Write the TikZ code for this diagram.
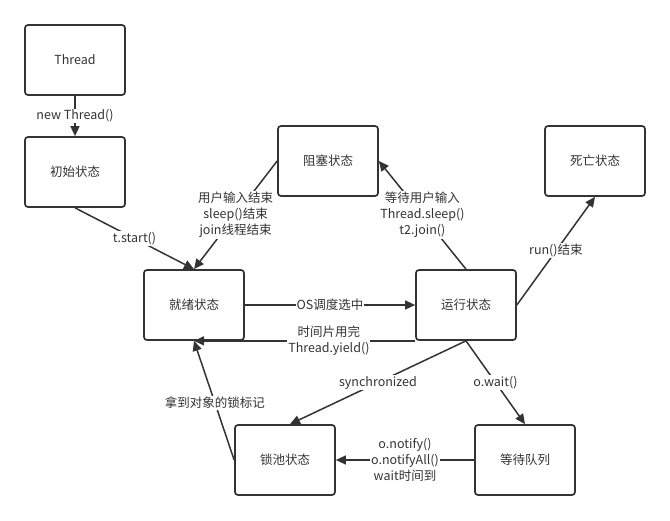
\documentclass[tikz,border=0pt]{standalone}
\usepackage{fontspec}
\setmainfont{Noto Sans CJK SC}
\usetikzlibrary{arrows.meta,calc}
\definecolor{ink}{HTML}{333333}
\begin{document}
\begin{tikzpicture}[x=1pt,y=-1pt,
  state/.style={draw=ink,line width=1.7pt,rounded corners=3pt,minimum width=100pt,minimum height=70pt,text=ink,font=\fontsize{12.5}{16}\selectfont,inner sep=0pt},
  conn/.style={draw=ink,line width=1.5pt,-{Triangle[length=10pt,width=9pt]}},
  lbl/.style={fill=white,text=ink,align=center,inner sep=1pt,font=\fontsize{12.5}{16}\selectfont}]
\useasboundingbox (0,0) rectangle (670,520);
\node[state] (thread) at (75,60) {Thread};
\node[state] (init) at (75,172) {初始状态};
\node[state] (block) at (328,161) {阻塞状态};
\node[state] (dead) at (595,161) {死亡状态};
\node[state] (ready) at (194,305) {就绪状态};
\node[state] (run) at (466,305) {运行状态};
\node[state] (lock) at (285,460) {锁池状态};
\node[state] (wait) at (525,460) {等待队列};

\draw[conn] (thread.south) -- node[lbl,pos=0.5]{new Thread()} (init.north);
\draw[conn] (init.south) -- node[lbl,pos=0.5]{t.start()} (ready.north);
\draw[conn] (block.west) -- node[lbl,pos=0.5]{用户输入结束\\sleep()结束\\join线程结束} (ready.north);
\draw[conn] (run.north) -- node[lbl,pos=0.5]{等待用户输入\\Thread.sleep()\\t2.join()} (block.east);
\draw[conn] (run.east) -- node[lbl,pos=0.5]{run()结束} (dead.south);
\draw[conn] (ready.east) -- node[lbl,pos=0.5]{OS调度选中} (run.west);
\draw[conn] (run.south west) -- node[lbl,pos=0.39]{时间片用完\\Thread.yield()} (ready.south);
\draw[conn] (run.south) -- node[lbl,pos=0.5]{synchronized} ($(lock.north)+(5,0)$);
\draw[conn] (run.south) -- node[lbl,pos=0.5]{o.wait()} (wait.north);
\draw[conn] (wait.west) -- node[lbl,pos=0.5]{o.notify()\\o.notifyAll()\\wait时间到} (lock.east);
\draw[conn] (lock.west) -- node[lbl,pos=0.48]{拿到对象的锁标记} (ready.south);
\end{tikzpicture}
\end{document}
